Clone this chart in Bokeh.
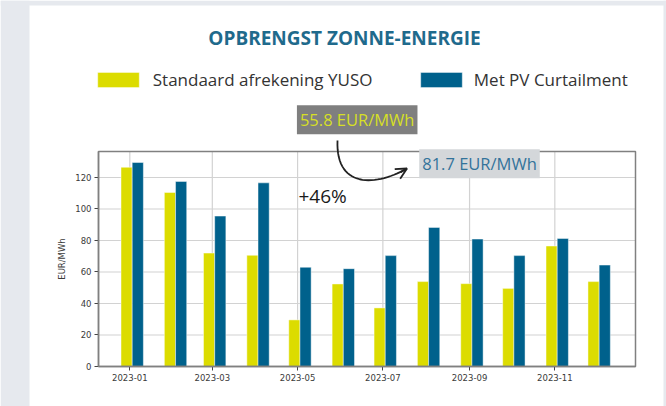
import pandas as pd
from bokeh.plotting import figure
from bokeh.models import (Range1d, FixedTicker, DatetimeTickFormatter, Legend, LegendItem,
                          Label, PolyAnnotation, Arrow, OpenHead, BoxAnnotation, ColumnDataSource)
from bokeh.embed import file_html
from bokeh.resources import INLINE

# ---------------- data ----------------
months = ["2023-01", "2023-02", "2023-03", "2023-04", "2023-05", "2023-06",
          "2023-07", "2023-08", "2023-09", "2023-10", "2023-11", "2023-12"]
yuso = [126.5, 110.5, 72.0, 70.6, 29.6, 52.4, 37.2, 53.9, 52.6, 49.6, 76.5, 53.9]
curtailment = [129.5, 117.5, 95.5, 116.6, 63.0, 62.1, 70.4, 88.3, 80.9, 70.4, 81.3, 64.4]
series_names = ["Standaard afrekening YUSO", "Met PV Curtailment"]
x_tick_labels = ["2023-01", "2023-03", "2023-05", "2023-07", "2023-09", "2023-11"]
y_ticks = [0, 20, 40, 60, 80, 100, 120]
avg_labels = ["55.8 EUR/MWh", "81.7 EUR/MWh"]
change_label = "+46%"
title_text = "OPBRENGST ZONNE-ENERGIE"
y_label = "EUR/MWh"

# ---------------- styles / layout ----------------
YELLOW = "#dcdc00"
BLUE = "#00618c"
PAGE_BG = "#e6e9ee"
SPINE = "#808080"
GRID = "#d2d2d2"
DAY = 86400000.0
W, H = 666, 406
BOX_L, BOX_R, BOX_T, BOX_B = 98.0, 635.0, 151.0, 366.0   # plot box, in pixels


def to_ms(labels):
    return [pd.Timestamp(s).timestamp() * 1000.0 for s in labels]


month_ms = to_ms(months)
tick_ms = to_ms(x_tick_labels)

# data extent of the plot box
x_start = month_ms[0] - 22.4 * DAY
x_end = x_start + 384.1 * DAY
y_top = 136.5


def dx(px):
    return x_start + (px - BOX_L) / (BOX_R - BOX_L) * (x_end - x_start)


def dy(py):
    return (BOX_B - py) / (BOX_B - BOX_T) * y_top


src = ColumnDataSource(dict(
    month=months,
    x_yuso=[m - 2.3 * DAY for m in month_ms],
    x_curt=[m + 5.7 * DAY for m in month_ms],
    yuso=yuso,
    curt=curtailment,
))

p = figure(width=W, height=H, x_axis_type="datetime",
           x_range=Range1d(dx(0), dx(W)), y_range=Range1d(dy(H), dy(0)),
           output_backend="svg", toolbar_location=None,
           min_border_left=0, min_border_right=0, min_border_top=0, min_border_bottom=0)
p.title.visible = False
p.border_fill_color = "white"
p.background_fill_color = "white"
p.outline_line_color = None
p.grid.visible = False

# page background around the white card
for kw in (dict(right=dx(29)), dict(left=dx(663)), dict(bottom=dy(5))):
    p.add_layout(BoxAnnotation(fill_color=PAGE_BG, fill_alpha=1, line_color=None,
                               level="underlay", **kw))

# grid lines (from tick lists)
p.segment(x0=tick_ms, y0=[0] * len(tick_ms), x1=tick_ms, y1=[y_top] * len(tick_ms),
          line_color=GRID, line_width=1.2)
p.segment(x0=[x_start] * len(y_ticks), y0=y_ticks, x1=[x_end] * len(y_ticks), y1=y_ticks,
          line_color=GRID, line_width=1.2)

r_yuso = p.vbar(x="x_yuso", top="yuso", width=8 * DAY, source=src,
                fill_color=YELLOW, line_color="white", line_alpha=0.45, line_width=1)
r_curt = p.vbar(x="x_curt", top="curt", width=8 * DAY, source=src,
                fill_color=BLUE, line_color="white", line_alpha=0.45, line_width=1)

# plot box outline
p.add_layout(BoxAnnotation(left=x_start, right=x_end, bottom=0, top=y_top,
                           fill_alpha=0, line_color=SPINE, line_alpha=1, line_width=1.5))

# axes pinned to the plot box
p.xaxis.fixed_location = 0
p.xaxis.bounds = (x_start, x_end)
p.yaxis.fixed_location = x_start
p.yaxis.bounds = (0, y_top)
p.xaxis.ticker = FixedTicker(ticks=tick_ms)
p.xaxis.formatter = DatetimeTickFormatter(days="%Y-%m", months="%Y-%m", years="%Y-%m")
p.yaxis.ticker = FixedTicker(ticks=y_ticks)
for ax in (p.xaxis, p.yaxis):
    ax.axis_line_color = SPINE
    ax.axis_line_width = 1.5
    ax.major_tick_line_color = "#444444"
    ax.major_tick_out = 4
    ax.major_tick_in = 0
    ax.minor_tick_line_color = None
    ax.major_label_text_font = "DejaVu Sans"
    ax.major_label_text_font_size = "8.5px"
    ax.major_label_text_color = "#3a3a3a"
    ax.major_label_standoff = 3
p.yaxis.axis_label = y_label
p.yaxis.axis_label_text_font = "DejaVu Sans"
p.yaxis.axis_label_text_font_size = "8.5px"
p.yaxis.axis_label_text_font_style = "normal"
p.yaxis.axis_label_text_color = "#3a3a3a"
p.yaxis.axis_label_standoff = 5

# title
p.add_layout(Label(x=dx(344), y=dy(37), text=title_text, text_align="center",
                   text_baseline="alphabetic", text_font="Open Sans", text_font_style="bold",
                   text_font_size="19px", text_color="#1f6a8c"))

# legends (two, placed individually)
leg_common = dict(orientation="horizontal", glyph_width=52, glyph_height=19,
                  padding=0, margin=0, border_line_color=None, background_fill_alpha=0,
                  label_text_font="Open Sans", label_text_font_size="17px",
                  label_text_color="#333333")
leg1 = Legend(items=[LegendItem(label=series_names[0], renderers=[r_yuso])],
              location=(91.75, H - 91), label_standoff=9, **leg_common)
leg2 = Legend(items=[LegendItem(label=series_names[1], renderers=[r_curt])],
              location=(414.8, H - 91), label_standoff=7, **leg_common)
p.add_layout(leg1, "center")
p.add_layout(leg2, "center")

# average labels and change
p.add_layout(Label(x=dx(356.7), y=dy(119.2), text=avg_labels[0], text_align="center",
                   text_baseline="middle", text_font="Open Sans", text_font_size="16.5px",
                   text_color="#d6df26", background_fill_color="#7f7f7f", padding=3))
p.add_layout(Label(x=dx(479), y=dy(163.2), text=avg_labels[1], text_align="center",
                   text_baseline="middle", text_font="Open Sans", text_font_size="16.5px",
                   text_color="#33739a", background_fill_color="#d4d7da", padding=3))
p.add_layout(Label(x=dx(298), y=dy(195), text=change_label, text_align="left",
                   text_baseline="alphabetic", text_font="Open Sans", text_font_size="19px",
                   text_color="#1a1a1a"))

# curved arrow (cubic bezier, in pixels)
P0, P1, P2, P3 = (337, 140), (335, 188), (375, 186), (406.5, 168)
cx, cy = [], []
n = 30
for i in range(n + 1):
    t = i / n
    a, b, c, d = (1 - t) ** 3, 3 * (1 - t) ** 2 * t, 3 * (1 - t) * t ** 2, t ** 3
    cx.append(dx(a * P0[0] + b * P1[0] + c * P2[0] + d * P3[0]))
    cy.append(dy(a * P0[1] + b * P1[1] + c * P2[1] + d * P3[1]))
p.add_layout(PolyAnnotation(xs=cx + cx[::-1], ys=cy + cy[::-1], fill_alpha=0,
                            line_color="#222222", line_alpha=1, line_width=1.8))
sx0 = P3[0] - 0.2 * (P3[0] - P2[0])
sy0 = P3[1] - 0.2 * (P3[1] - P2[1])
p.add_layout(Arrow(x_start=dx(sx0), y_start=dy(sy0), x_end=dx(P3[0]), y_end=dy(P3[1]),
                   line_color="#222222", line_width=1.8,
                   end=OpenHead(size=11, line_color="#222222", line_width=1.8)))

open("out.html", "w").write(file_html(p, INLINE))
